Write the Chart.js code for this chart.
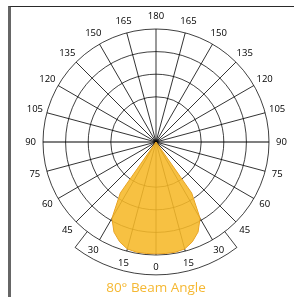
<!DOCTYPE html>
<html><head><meta charset="utf-8">
<script src="https://cdn.jsdelivr.net/npm/chart.js@4.4.1/dist/chart.umd.min.js"></script>
<style>
html,body{margin:0;padding:0;background:#fff;}
#wrap{position:relative;width:294px;height:297px;overflow:hidden;}
#frame{position:absolute;left:8px;top:6px;width:400px;height:400px;border-top:1px solid #2a2a2a;border-left:3px solid #666;}
#c{position:absolute;left:0;top:0;}
</style></head><body>
<div id="wrap"><div id="frame"></div><canvas id="c" width="294" height="297"></canvas></div>
<script>
// spoke angles (degrees), clockwise from the top of the diagram
const spokeAngles = [
  180,175,170,165,160,155,150,145,140,135,130,125,
  120,115,110,105,100,95,90,85,80,75,70,65,
  60,55,50,45,40,35,30,25,20,15,10,5,
  0,5,10,15,20,25,30,35,40,45,50,55,
  60,65,70,75,80,85,90,95,100,105,110,115,
  120,125,130,135,140,145,150,155,160,165,170,175
];
// relative intensity (% of max) along each spoke
const intensity = [
  0,0,0,0,0,0,0,0,0,0,0,0,
  0,0,0,0,0,0,0,0,0,0,0,0,
  0,0,0,0,0,55,78,88,94,98,99,99,
  99,99,99,98,94,88,78,55,0,0,0,0,
  0,0,0,0,0,0,0,0,0,0,0,0,
  0,0,0,0,0,0,0,0,0,0,0,0
];
const ringTicks = [0,20,40,60,80,100];
const labelStep = 15;          // angle labels / spokes every 15 degrees
const titleText = '80° Beam Angle';
const bandHalfAngle = 37.5;    // degrees either side of 0
const bandOuterRatio = 1.176;  // outer radius of the label band
const labelRadiusRatio = 1.11; // where the angle labels sit

const decoPlugin = {
  id: 'deco',
  afterDatasetsDraw(chart) {
    const s = chart.scales.r, ctx = chart.ctx;
    const r1 = s.drawingArea, r2 = r1 * bandOuterRatio;
    const d = bandHalfAngle * Math.PI / 180;
    const a0 = Math.PI / 2 - d, a1 = Math.PI / 2 + d;
    ctx.save();
    ctx.strokeStyle = 'rgba(0,0,0,0.75)';
    ctx.lineWidth = 1;
    ctx.beginPath();
    ctx.arc(s.xCenter, s.yCenter, r2, a0, a1);
    ctx.moveTo(s.xCenter + r1 * Math.cos(a0), s.yCenter + r1 * Math.sin(a0));
    ctx.lineTo(s.xCenter + r2 * Math.cos(a0), s.yCenter + r2 * Math.sin(a0));
    ctx.moveTo(s.xCenter + r1 * Math.cos(a1), s.yCenter + r1 * Math.sin(a1));
    ctx.lineTo(s.xCenter + r2 * Math.cos(a1), s.yCenter + r2 * Math.sin(a1));
    ctx.stroke();
    ctx.restore();
  },
  afterDraw(chart) {
    const s = chart.scales.r, ctx = chart.ctx;
    ctx.save();
    ctx.fillStyle = '#000';
    ctx.font = '9.5px "Open Sans"';
    ctx.textAlign = 'center';
    ctx.textBaseline = 'middle';
    spokeAngles.forEach((a, i) => {
      if (a % labelStep !== 0) return;
      const p = s.getPointPosition(i, s.drawingArea * labelRadiusRatio);
      ctx.fillText(String(a), p.x, p.y);
    });
    ctx.restore();
  }
};

new Chart(document.getElementById('c'), {
  type: 'radar',
  data: {
    labels: spokeAngles,
    datasets: [{
      data: intensity,
      backgroundColor: 'rgba(246,184,40,0.88)',
      borderColor: '#e8a323',
      borderWidth: 1,
      pointRadius: 0,
      fill: true,
      tension: 0
    }]
  },
  options: {
    responsive: false,
    animation: false,
    devicePixelRatio: 1,
    layout: { padding: { left: 43, right: 25, top: 29, bottom: 0 } },
    plugins: {
      legend: { display: false },
      tooltip: { enabled: false },
      title: {
        display: true, position: 'bottom', text: titleText, color: '#f5b833',
        font: { family: '"Open Sans"', size: 13.5, weight: 'normal' },
        padding: { top: 25, bottom: 0.8 }
      }
    },
    scales: {
      r: {
        min: ringTicks[0], max: ringTicks[ringTicks.length - 1], z: 1,
        ticks: { display: false, stepSize: ringTicks[1] - ringTicks[0] },
        grid: {
          circular: true, lineWidth: 1,
          color: c => (c.tick && c.tick.value === ringTicks[1]) ? 'transparent' : 'rgba(0,0,0,0.75)'
        },
        angleLines: {
          lineWidth: c => (spokeAngles[c.index] === 90) ? 2 : 1,
          color: c => (spokeAngles[c.index] === 90) ? 'rgba(0,0,0,0.5)'
                    : (spokeAngles[c.index] % labelStep === 0) ? 'rgba(0,0,0,0.8)' : 'transparent'
        },
        pointLabels: { display: false }
      }
    }
  },
  plugins: [decoPlugin]
});
</script>
</body></html>
